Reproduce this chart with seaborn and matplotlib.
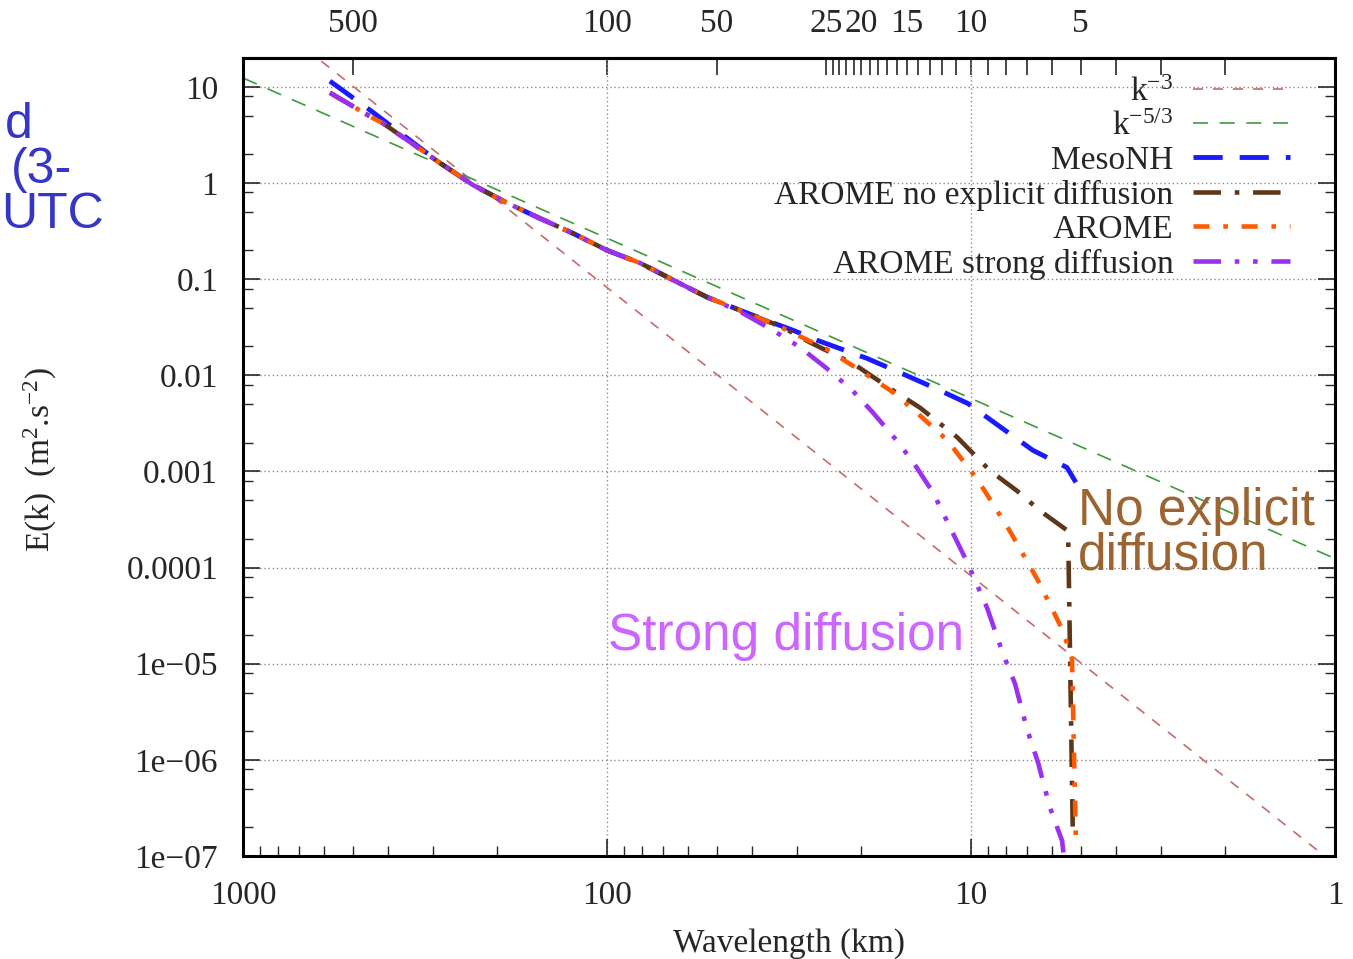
import numpy as np
import pandas as pd
import matplotlib
matplotlib.use("Agg")
import matplotlib.pyplot as plt
import seaborn as sns
from matplotlib.ticker import FixedLocator, FixedFormatter, NullFormatter, LogLocator, NullLocator

# ---------------- data ----------------
ref_wavelength = [1000, 1]
k3_energy = [82.0, 8.2e-8]
k53_energy = [12.4, 1.24e-4]

mesonh_wavelength = [577, 448, 287, 233, 188, 153, 124, 100, 81, 65.8, 53.1, 43.1,
                     36.3, 30.8, 26.5, 19.3, 15.7, 12.7, 10.2, 8.3, 6.76, 5.45, 5.15]
mesonh_energy = [11.5, 5.75, 1.61, 0.95, 0.62, 0.43, 0.30, 0.20, 0.147, 0.098, 0.065, 0.0475,
                 0.037, 0.0294, 0.0232, 0.015, 0.0107, 0.0075, 0.0051, 0.0029, 0.00166, 0.0011, 7.7e-4]

noexp_wavelength = [577, 440, 413, 287, 233, 188, 153, 124, 100, 81, 65.8, 53.1, 43.1,
                    32.9, 27.7, 21.1, 16.4, 13.8, 10.9, 8.87, 7.48, 6.46, 5.41, 5.25]
noexp_energy = [8.7, 4.75, 4.2, 1.61, 0.95, 0.62, 0.43, 0.30, 0.20, 0.147, 0.098, 0.065, 0.0475,
                0.0316, 0.022, 0.0133, 0.007, 0.0046, 0.00226, 0.00102, 6.3e-4, 3.9e-4, 2.4e-4, 1.6e-7]

arome_wavelength = [577, 440, 413, 287, 233, 188, 153, 124, 100, 81, 65.8, 53.1, 43.1,
                    32.9, 24.9, 20.2, 16.4, 14.0, 11.6, 9.57, 7.87, 6.54, 5.59, 5.28, 5.15]
arome_energy = [8.7, 4.75, 4.2, 1.61, 0.95, 0.62, 0.43, 0.30, 0.20, 0.147, 0.098, 0.065, 0.0475,
                0.031, 0.0187, 0.0113, 0.0067, 0.004, 0.0021, 8.1e-4, 2.5e-4, 7.3e-5, 2.2e-5, 1.13e-5, 1.4e-7]

strong_wavelength = [577, 440, 413, 287, 233, 188, 153, 124, 100, 81, 65.8, 53.1, 43.1,
                     35, 29.5, 24.9, 21.2, 18.6, 16, 14.4, 12.7, 11.2, 10.2, 9.03, 8.17,
                     7.57, 7.02, 6.54, 6.07, 5.62, 5.5]
strong_energy = [8.7, 4.75, 4.2, 1.61, 0.95, 0.62, 0.43, 0.30, 0.20, 0.147, 0.098, 0.065, 0.046,
                 0.0294, 0.0196, 0.0118, 0.007, 0.0041, 0.0021, 0.00124, 6e-4, 2.26e-4, 1.1e-4, 3.8e-5, 1.27e-5,
                 6.2e-6, 2.1e-6, 9.3e-7, 3.2e-7, 1.44e-7, 6.9e-8]

series_labels = ["k$^{-3}$", "k$^{-5/3}$", "MesoNH", "AROME no explicit diffusion",
                 "AROME", "AROME strong diffusion"]

bottom_ticks = [1000, 100, 10, 1]
bottom_ticklabels = ["1000", "100", "10", "1"]
top_ticks = [500, 100, 50] + list(range(25, 1, -1))
top_labelled = {500: "500", 100: "100", 50: "50", 25: "25", 20: "20", 15: "15", 10: "10", 5: "5"}
y_ticks = [10, 1, 0.1, 0.01, 0.001, 1e-4, 1e-5, 1e-6, 1e-7]
y_ticklabels = ["10", "1", "0.1", "0.01", "0.001", "0.0001", "1e\u221205", "1e\u221206", "1e\u221207"]

# ---------------- style ----------------
sns.set_style("ticks")
plt.rcParams["font.family"] = ["Liberation Serif", "DejaVu Serif"]
plt.rcParams["mathtext.fontset"] = "custom"
plt.rcParams["mathtext.rm"] = "Liberation Serif"
plt.rcParams["mathtext.it"] = "Liberation Serif:italic"
plt.rcParams["mathtext.default"] = "regular"

W, H = 1353, 959
fig = plt.figure(figsize=(W / 100, H / 100), dpi=100)
left, right, top, bottom = 243, 1335, 58, 856
ax = fig.add_axes([left / W, 1 - bottom / H, (right - left) / W, (bottom - top) / H])
ax.set_xscale("log")
ax.set_yscale("log")

styles = [
    (ref_wavelength, k3_energy, "#c76a6a", 1.2, (6, 6)),
    (ref_wavelength, k53_energy, "#3f9a3f", 1.2, (9, 7)),
    (mesonh_wavelength, mesonh_energy, "#1a1aff", 3.5, (6, 3.5)),
    (noexp_wavelength, noexp_energy, "#5e3618", 3.3, (6, 3, 1, 3)),
    (arome_wavelength, arome_energy, "#ff5a00", 3.3, (3.5, 3, 1, 3)),
    (strong_wavelength, strong_energy, "#9a30f0", 3.3, (6, 3, 1, 3, 1, 3)),
]

handles = []
for (xw, ye, col, lw, dash), lab in zip(styles, series_labels):
    df = pd.DataFrame({"wavelength": xw, "energy": ye})
    n_before = len(ax.lines)
    sns.lineplot(data=df, x="wavelength", y="energy", ax=ax, color=col, linewidth=lw,
                 sort=False, estimator=None, errorbar=None)
    line = ax.lines[n_before]
    line.set_dashes(dash)
    line.set_dash_capstyle("butt")
    handles.append(line)

ax.set_xlim(1000, 1)
ax.set_ylim(1e-7, 20)
ax.set_xlabel("")
ax.set_ylabel("")

# grid
for v in [100, 10]:
    ax.axvline(v, color="#8c8c8c", lw=1.0, ls=(0, (1, 2)), zorder=0.5)
for v in y_ticks[1:-1] + [10]:
    ax.axhline(v, color="#8c8c8c", lw=1.0, ls=(0, (1, 2)), zorder=0.5)

# ticks
ax.xaxis.set_major_locator(FixedLocator(bottom_ticks))
ax.xaxis.set_major_formatter(FixedFormatter(bottom_ticklabels))
ax.xaxis.set_minor_locator(LogLocator(base=10, subs=np.arange(2, 10), numticks=20))
ax.xaxis.set_minor_formatter(NullFormatter())
ax.yaxis.set_major_locator(FixedLocator(y_ticks))
ax.yaxis.set_major_formatter(FixedFormatter(y_ticklabels))
ax.yaxis.set_minor_locator(LogLocator(base=10, subs=[2, 5, 8], numticks=20))
ax.yaxis.set_minor_formatter(NullFormatter())
ax.tick_params(axis="both", which="major", direction="in", length=12, width=1.2,
               labelsize=24, pad=18, right=True, top=False)
ax.tick_params(axis="both", which="minor", direction="in", length=7, width=1.0,
               right=True, top=False)
for s in ax.spines.values():
    s.set_linewidth(2.2)
    s.set_color("black")

sec = ax.secondary_xaxis("top", functions=(lambda x: x, lambda x: x))
sec.xaxis.set_major_locator(FixedLocator(top_ticks))
sec.xaxis.set_major_formatter(FixedFormatter([top_labelled.get(t, "") for t in top_ticks]))
sec.xaxis.set_minor_locator(NullLocator())
sec.tick_params(axis="x", which="major", direction="in", length=12, width=1.2,
                labelsize=24, pad=14)
sec.spines["top"].set_linewidth(2.2)

# legend
leg = ax.legend(handles, series_labels, loc="upper right",
                bbox_to_anchor=((1290 - left) / (right - left), (bottom - 77) / (bottom - top)),
                frameon=False, markerfirst=False, fontsize=24, handlelength=2.9,
                handletextpad=0.6, labelspacing=0.11, borderpad=0, borderaxespad=0)

# labels
fig.text(40 / W, 1 - 460 / H, "E(k)  (m$^2$.s$^{-2}$)", rotation=90, ha="center", va="center",
         fontsize=24)
fig.text(789 / W, 1 - 944 / H, "Wavelength (km)", ha="center", va="center", fontsize=24)

# overlaid annotations
sans = ["Liberation Sans", "DejaVu Sans"]
fig.text(1078 / W, 1 - 525 / H, "No explicit", color="#9b6430", fontsize=37, family=sans,
         ha="left", va="baseline")
fig.text(1078 / W, 1 - 570 / H, "diffusion", color="#9b6430", fontsize=37, family=sans,
         ha="left", va="baseline")
fig.text(608 / W, 1 - 650 / H, "Strong diffusion", color="#cc66ff", fontsize=37, family=sans,
         ha="left", va="baseline")
blue = "#3535c8"
fig.text(33 / W, 1 - 138 / H, "d", color=blue, fontsize=36, family=sans, ha="right", va="baseline")
fig.text(72 / W, 1 - 183 / H, "(3-", color=blue, fontsize=36, family=sans, ha="right", va="baseline")
fig.text(104 / W, 1 - 228 / H, "UTC", color=blue, fontsize=36, family=sans, ha="right", va="baseline")

fig.savefig("out.png", dpi=100)
